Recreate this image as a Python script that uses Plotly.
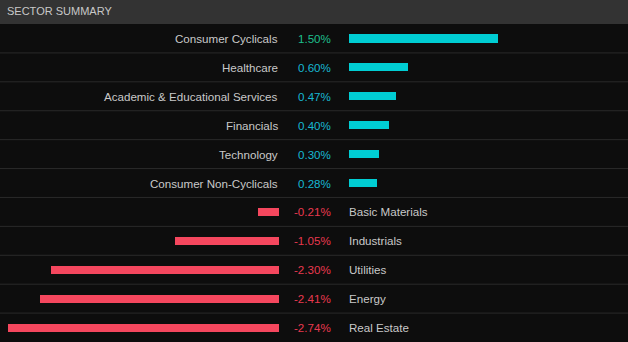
import plotly.graph_objects as go

sectors = ["Consumer Cyclicals", "Healthcare", "Academic & Educational Services",
           "Financials", "Technology", "Consumer Non-Cyclicals", "Basic Materials",
           "Industrials", "Utilities", "Energy", "Real Estate"]
changes = [1.50, 0.60, 0.47, 0.40, 0.30, 0.28, -0.21, -1.05, -2.30, -2.41, -2.74]
value_labels = ["1.50%", "0.60%", "0.47%", "0.40%", "0.30%", "0.28%",
                "-0.21%", "-1.05%", "-2.30%", "-2.41%", "-2.74%"]
title = "SECTOR SUMMARY"

W, H = 628, 342
HEADER = 24
PX_PER_UNIT = 99.0
POS_ZERO = 349
NEG_ZERO = 279

BG = "#0d0d0d"
HEADER_BG = "#333333"
POS_BAR = "#00cdd3"
NEG_BAR = "#f5475e"
TEXT = "#c9c9c9"
FONT = "Liberation Sans, Arial, sans-serif"
FS = 11.6

n = len(sectors)
idx = list(range(n))
pos_i = [i for i in idx if changes[i] >= 0]
neg_i = [i for i in idx if changes[i] < 0]

fig = go.Figure()
fig.add_trace(go.Bar(
    x=[changes[i] for i in pos_i], y=pos_i, orientation="h",
    marker=dict(color=POS_BAR, line=dict(width=0)), width=0.28,
    xaxis="x", yaxis="y", hoverinfo="skip", showlegend=False))
fig.add_trace(go.Bar(
    x=[changes[i] for i in neg_i], y=neg_i, orientation="h",
    marker=dict(color=NEG_BAR, line=dict(width=0)), width=0.28,
    xaxis="x2", yaxis="y", hoverinfo="skip", showlegend=False))

ydom_top = (H - HEADER) / H
annotations = []
for i in idx:
    if changes[i] >= 0:
        annotations.append(dict(x=280 / W, xref="paper", y=i, yref="y",
                                text=sectors[i], xanchor="right", yanchor="middle",
                                showarrow=False, font=dict(color=TEXT, size=FS, family=FONT)))
        col = "#1dbf8c" if changes[i] >= 1.0 else "#17b7d2"
        annotations.append(dict(x=296 / W, xref="paper", y=i, yref="y",
                                text=value_labels[i], xanchor="left", yanchor="middle",
                                showarrow=False, font=dict(color=col, size=FS, family=FONT)))
    else:
        annotations.append(dict(x=333 / W, xref="paper", y=i, yref="y",
                                text=value_labels[i], xanchor="right", yanchor="middle",
                                showarrow=False, font=dict(color="#e8394f", size=FS, family=FONT)))
        annotations.append(dict(x=347 / W, xref="paper", y=i, yref="y",
                                text=sectors[i], xanchor="left", yanchor="middle",
                                showarrow=False, font=dict(color=TEXT, size=FS, family=FONT)))

annotations.append(dict(x=5 / W, xref="paper", y=1 - 11.5 / H, yref="paper",
                        text=title, xanchor="left", yanchor="middle", showarrow=False,
                        font=dict(color="#c8c8c8", size=11, family=FONT)))

shapes = [dict(type="rect", xref="paper", yref="paper", x0=0, x1=1, y0=ydom_top, y1=1,
               fillcolor=HEADER_BG, line=dict(width=0), layer="below")]
for k in range(1, n):
    shapes.append(dict(type="line", xref="paper", yref="y", x0=0, x1=1,
                       y0=k - 0.5, y1=k - 0.5, line=dict(color="#2a2a2a", width=1),
                       layer="below"))

fig.update_layout(
    width=W, height=H, margin=dict(l=0, r=0, t=0, b=0),
    paper_bgcolor=BG, plot_bgcolor=BG, bargap=0,
    xaxis=dict(domain=[POS_ZERO / W, 1], range=[0, (W - POS_ZERO) / PX_PER_UNIT],
               visible=False, fixedrange=True),
    xaxis2=dict(domain=[0, NEG_ZERO / W], range=[-NEG_ZERO / PX_PER_UNIT, 0],
                visible=False, fixedrange=True, anchor="y"),
    yaxis=dict(domain=[0, ydom_top], range=[n - 0.5, -0.5], visible=False,
               fixedrange=True),
    annotations=annotations, shapes=shapes,
)
fig.write_html("out.html", config={"displayModeBar": False})
